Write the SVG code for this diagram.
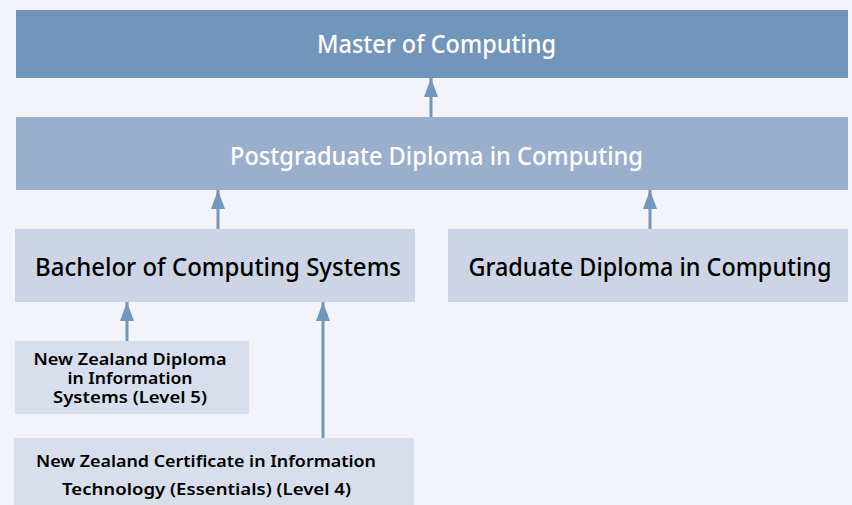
<svg xmlns="http://www.w3.org/2000/svg" width="852" height="505" viewBox="0 0 852 505">
<defs>
<marker id="ah" markerWidth="20" markerHeight="14" refX="19" refY="7" orient="auto" markerUnits="userSpaceOnUse" viewBox="0 0 20 14">
<path d="M0,0 L19,7 L0,14 Z" fill="#7396bc"/>
</marker>
<style>
.t{font-family:"Noto Sans","Liberation Sans",sans-serif;text-anchor:middle}
.w{fill:#ffffff;font-size:26px;font-weight:500}
.b{fill:#000000;font-size:26px;font-weight:500}
.s{fill:#000000;font-size:16px;font-weight:600}
.c{stroke:#7396bc;stroke-width:3;fill:none}
</style>
</defs>
<rect width="852" height="505" fill="#f2f4f9"/>
<g id="master">
<rect x="16" y="10" width="832" height="68" fill="#7296bb"/>
<text class="t w" x="436.5" y="53" textLength="239" lengthAdjust="spacingAndGlyphs">Master of Computing</text>
</g>
<g id="postgrad">
<rect x="16" y="117" width="832" height="73" fill="#9aafcc"/>
<text class="t w" x="436.5" y="165" textLength="413" lengthAdjust="spacingAndGlyphs">Postgraduate Diploma in Computing</text>
</g>
<g id="bachelor">
<rect x="15" y="229" width="400" height="73" fill="#cdd4e6"/>
<text class="t b" x="218" y="276" textLength="366" lengthAdjust="spacingAndGlyphs">Bachelor of Computing Systems</text>
</g>
<g id="graddip">
<rect x="448" y="229" width="400" height="73" fill="#cdd4e6"/>
<text class="t b" x="650" y="276" textLength="363" lengthAdjust="spacingAndGlyphs">Graduate Diploma in Computing</text>
</g>
<g id="nzdip">
<rect x="15" y="341" width="234" height="73" fill="#d8deeb"/>
<text class="t s" x="130" y="365" textLength="193" lengthAdjust="spacingAndGlyphs">New Zealand Diploma</text>
<text class="t s" x="130" y="384" textLength="125" lengthAdjust="spacingAndGlyphs">in Information</text>
<text class="t s" x="130" y="403" textLength="154" lengthAdjust="spacingAndGlyphs">Systems (Level 5)</text>
</g>
<g id="nzcert">
<rect x="14" y="438" width="400" height="67" fill="#d8deeb"/>
<text class="t s" x="206" y="467" textLength="340" lengthAdjust="spacingAndGlyphs">New Zealand Certificate in Information</text>
<text class="t s" x="206.5" y="495" textLength="289" lengthAdjust="spacingAndGlyphs">Technology (Essentials) (Level 4)</text>
</g>
<g id="connectors">
<line class="c" x1="431" y1="117" x2="431" y2="78" marker-end="url(#ah)"/>
<line class="c" x1="218" y1="229" x2="218" y2="190" marker-end="url(#ah)"/>
<line class="c" x1="650" y1="229" x2="650" y2="190" marker-end="url(#ah)"/>
<line class="c" x1="127" y1="341" x2="127" y2="302" marker-end="url(#ah)"/>
<line class="c" x1="323" y1="438" x2="323" y2="302" marker-end="url(#ah)"/>
</g>
</svg>
